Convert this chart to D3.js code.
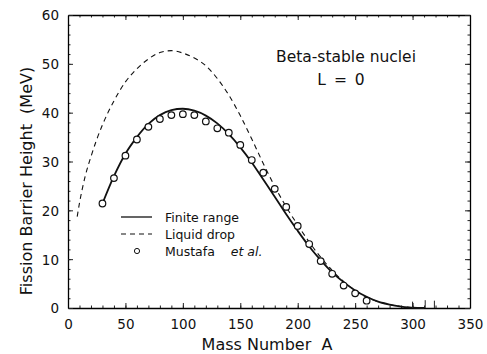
<!DOCTYPE html>
<html>
<head>
<meta charset="utf-8">
<script src="https://cdn.jsdelivr.net/npm/d3@7"></script>
<style>
  body { margin: 0; background: #fff; }
  text { font-family: 'DejaVu Sans', 'Liberation Sans', Arial, sans-serif; fill: #111; }
</style>
</head>
<body>
<svg id="chart" width="487" height="354"></svg>
<script>
// Finite range model (solid)
const finiteA = [30, 40, 50, 60, 70, 80, 90, 100, 110, 120, 130, 140, 150, 160, 170, 180, 190, 200, 210, 220, 230, 240, 250, 260, 270, 280, 290, 300, 310]
const finiteB = [21.4, 27.0, 31.6, 35.0, 37.7, 39.5, 40.5, 40.8, 40.4, 39.4, 37.8, 35.6, 32.9, 29.8, 26.3, 22.8, 19.2, 15.8, 12.6, 9.8, 7.3, 5.3, 3.6, 2.3, 1.3, 0.7, 0.3, 0.05, 0]

// Liquid drop model (dashed)
const dropA = [8, 10, 15, 20, 25, 30, 40, 50, 60, 70, 80, 90, 100, 110, 120, 130, 140, 150, 160, 170, 180, 190, 200, 210, 220, 230, 240, 250, 260, 270, 280, 290, 300, 310]
const dropB = [18.7, 21.5, 27.0, 31.0, 34.5, 37.5, 42.4, 46.3, 49.0, 51.0, 52.3, 52.7, 52.2, 51.2, 49.6, 47.0, 43.6, 39.4, 34.6, 29.6, 24.9, 20.7, 17.0, 13.5, 10.4, 7.7, 5.4, 3.6, 2.2, 1.3, 0.7, 0.3, 0.1, 0]

// Mustafa et al. (circles)
const mustafaA = [30, 40, 50, 60, 70, 80, 90, 100, 110, 120, 130, 140, 150, 160, 170, 180, 190, 200, 210, 220, 230, 240, 250, 260]
const mustafaB = [21.4, 26.6, 31.2, 34.5, 37.1, 38.7, 39.5, 39.7, 39.5, 38.2, 36.8, 35.9, 33.4, 30.3, 27.7, 24.4, 20.7, 16.8, 13.1, 9.6, 7.0, 4.6, 3.0, 1.5]

// small spikes near the end of the table
const spikeA = [300, 311, 319]
const spikeB = [1.3, 1.6, 1.5]

const xTicks = [0, 50, 100, 150, 200, 250, 300, 350]
const yTicks = [0, 10, 20, 30, 40, 50, 60]

const svg = d3.select('#chart')
const margin = {top: 15, right: 17, bottom: 46, left: 68}
const width = 487, height = 354

const x = d3.scaleLinear().domain([0, 350]).range([margin.left, width - margin.right])
const y = d3.scaleLinear().domain([0, 60]).range([height - margin.bottom, margin.top])

const zip = (a, b) => a.map((v, i) => [v, b[i]])

// axes with inward ticks
const addAxis = (axisFn, scale, ticks, minor, transform, size, labels) => {
  const g = svg.append('g').attr('transform', transform)
  g.call(axisFn(scale).tickValues(minor).tickSize(size / 2).tickFormat(''))
    .call(g => g.select('.domain').remove())
  const g2 = svg.append('g').attr('transform', transform)
  g2.call(axisFn(scale).tickValues(ticks).tickSize(size).tickSizeOuter(0)
      .tickFormat(labels ? d3.format('d') : ''))
  g2.select('.domain').attr('stroke-width', 1.3)
  return g2
}

const xMinor = d3.range(0, 351, 10)
const yMinor = d3.range(0, 61, 2)

const axBottom = addAxis(d3.axisTop, x, xTicks, xMinor, `translate(0,${y(0)})`, 5, true)
axBottom.selectAll('text').attr('y', 21).attr('dy', '0').attr('font-size', 13.5)
addAxis(d3.axisBottom, x, xTicks, xMinor, `translate(0,${y(60)})`, 5, false)
const axLeft = addAxis(d3.axisRight, y, yTicks, yMinor, `translate(${x(0)},0)`, 5, true)
axLeft.selectAll('text').attr('x', -9).attr('text-anchor', 'end').attr('dy', '0.36em').attr('font-size', 13.5)
addAxis(d3.axisLeft, y, yTicks, yMinor, `translate(${x(350)},0)`, 5, false)
svg.selectAll('.tick line').attr('stroke', '#222')
svg.selectAll('.tick text').attr('font-family', "'DejaVu Sans', sans-serif").attr('fill', '#111')

// curves
const line = d3.line().x(d => x(d[0])).y(d => y(d[1])).curve(d3.curveMonotoneX)

svg.append('path')
  .datum(zip(dropA, dropB))
  .attr('fill', 'none')
  .attr('stroke', '#111')
  .attr('stroke-width', 1.1)
  .attr('stroke-dasharray', '5,4')
  .attr('d', line)

svg.append('path')
  .datum(zip(finiteA, finiteB))
  .attr('fill', 'none')
  .attr('stroke', '#111')
  .attr('stroke-width', 1.8)
  .attr('d', line)

svg.append('g').selectAll('circle')
  .data(zip(mustafaA, mustafaB))
  .join('circle')
  .attr('cx', d => x(d[0]))
  .attr('cy', d => y(d[1]))
  .attr('r', 3.3)
  .attr('fill', 'white')
  .attr('stroke', '#111')
  .attr('stroke-width', 1.2)

svg.append('g').selectAll('line')
  .data(zip(spikeA, spikeB))
  .join('line')
  .attr('x1', d => x(d[0])).attr('x2', d => x(d[0]))
  .attr('y1', y(0)).attr('y2', d => y(d[1]))
  .attr('stroke', '#222')
  .attr('stroke-width', 1)

// axis titles
svg.append('text')
  .attr('x', 267).attr('y', 350)
  .attr('text-anchor', 'middle')
  .attr('font-size', 16)
  .attr('xml:space', 'preserve')
  .text('Mass Number  A')

svg.append('text')
  .attr('transform', `translate(32,181) rotate(-90)`)
  .attr('text-anchor', 'middle')
  .attr('font-size', 16)
  .attr('xml:space', 'preserve')
  .text('Fission Barrier Height  (MeV)')

// annotation
svg.append('text').attr('x', 346).attr('y', 62).attr('text-anchor', 'middle')
  .attr('font-size', 15.5).text('Beta-stable nuclei')
svg.append('text').attr('x', 341).attr('y', 85).attr('text-anchor', 'middle')
  .attr('font-size', 15.5).attr('word-spacing', 3).text('L = 0')

// legend
const leg = svg.append('g').attr('transform', 'translate(121,217)')
leg.append('line').attr('x1', 0).attr('x2', 31).attr('y1', 0).attr('y2', 0)
  .attr('stroke', '#111').attr('stroke-width', 1.3)
leg.append('line').attr('x1', 0).attr('x2', 31).attr('y1', 17).attr('y2', 17)
  .attr('stroke', '#111').attr('stroke-width', 1.1).attr('stroke-dasharray', '5,4')
leg.append('circle').attr('cx', 16).attr('cy', 34).attr('r', 2.6)
  .attr('fill', 'white').attr('stroke', '#111').attr('stroke-width', 1)
leg.append('text').attr('x', 44).attr('y', 4.5).attr('font-size', 12.5).text('Finite range')
leg.append('text').attr('x', 44).attr('y', 21.5).attr('font-size', 12.5).text('Liquid drop')
const mt = leg.append('text').attr('x', 44).attr('y', 38.5).attr('font-size', 12.5).attr('xml:space', 'preserve')
mt.append('tspan').text('Mustafa    ')
mt.append('tspan').attr('font-style', 'italic').text('et al.')
</script>
</body>
</html>
